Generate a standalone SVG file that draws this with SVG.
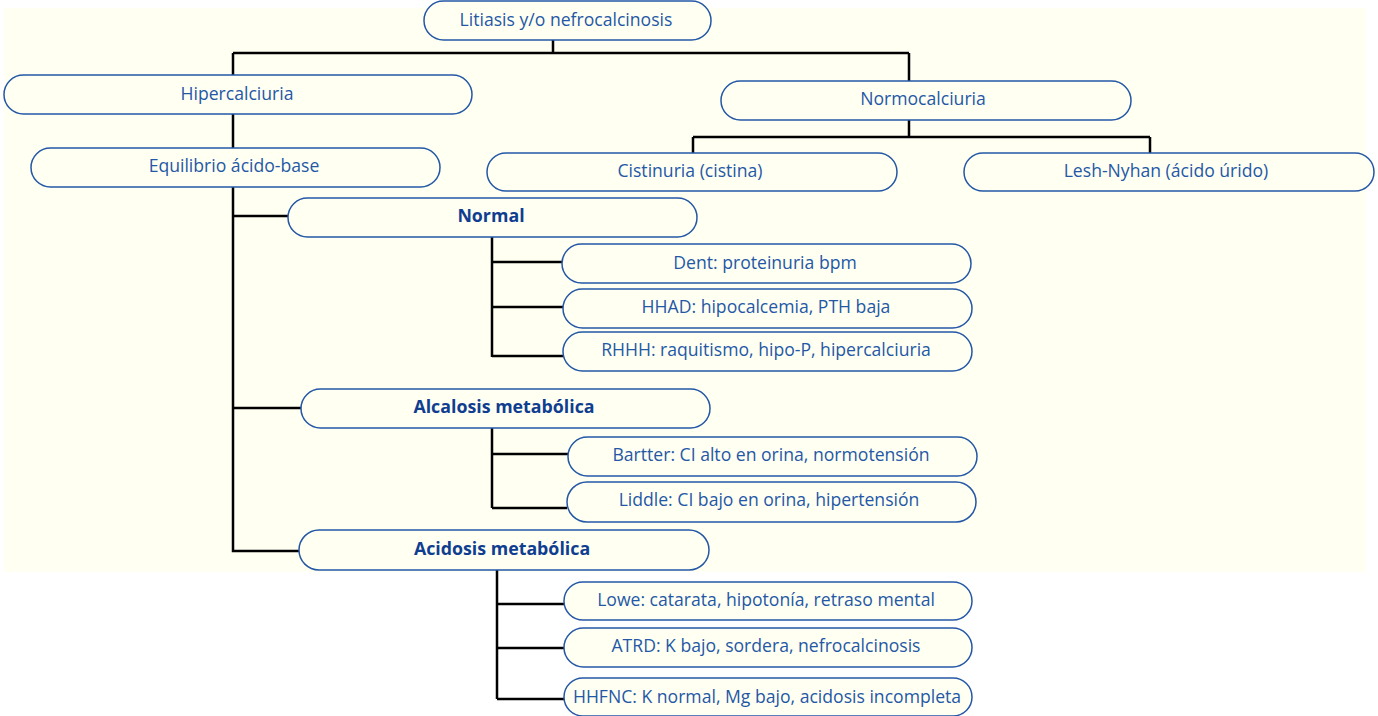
<svg xmlns="http://www.w3.org/2000/svg" width="1378" height="716" viewBox="0 0 1378 716">
<style>
.box{fill:#FFFFF2;stroke:#2458A6;stroke-width:1.5}
.t{font-family:"Open Sans","Noto Sans",sans-serif;font-size:17.6px;fill:#2458A6;text-anchor:middle}
.b{font-weight:bold;fill:#0F3E91;font-size:17.8px}
.c{fill:none;stroke:#000;stroke-width:2.5}
</style>
<rect x="4" y="8" width="1362" height="564" fill="#FFFFF2"/>
<g id="connectors">
<path class="c" d="M553 40V53M233 53H909M233 53V75M909 53V81"/>
<path class="c" d="M233 114V148M233 187V551H299M233 216H288M233 408H301"/>
<path class="c" d="M909 120V137M693 137H1150M693 137V153M1150 137V153"/>
<path class="c" d="M492 237V357M492 262H562M492 307H563M492 356H563"/>
<path class="c" d="M492 428V508M492 454H568M492 508H567"/>
<path class="c" d="M497 570V699M497 604H564M497 648H564M497 699H564"/>
</g>
<g id="n-litiasis"><rect class="box" x="424" y="1" width="287" height="39" rx="19.5"/><text class="t" x="566" y="26">Litiasis y/o nefrocalcinosis</text></g>
<g id="n-hipercalciuria"><rect class="box" x="4" y="75" width="468" height="39" rx="19.5"/><text class="t" x="237" y="100">Hipercalciuria</text></g>
<g id="n-normocalciuria"><rect class="box" x="721" y="81" width="410" height="39" rx="19.5"/><text class="t" x="923" y="105">Normocalciuria</text></g>
<g id="n-equilibrio"><rect class="box" x="31" y="148" width="409" height="39" rx="19.5"/><text class="t" x="234" y="172">Equilibrio ácido-base</text></g>
<g id="n-cistinuria"><rect class="box" x="487" y="153" width="410" height="38" rx="19"/><text class="t" x="690" y="177">Cistinuria (cistina)</text></g>
<g id="n-lesh"><rect class="box" x="964" y="153" width="410" height="38" rx="19"/><text class="t" x="1166" y="177">Lesh-Nyhan (ácido úrido)</text></g>
<g id="n-normal"><rect class="box" x="288" y="198" width="409" height="39" rx="19.5"/><text class="t b" x="491" y="222">Normal</text></g>
<g id="n-dent"><rect class="box" x="562" y="244" width="409" height="39" rx="19.5"/><text class="t" x="765" y="269">Dent: proteinuria bpm</text></g>
<g id="n-hhad"><rect class="box" x="563" y="289" width="409" height="39" rx="19.5"/><text class="t" x="766" y="313">HHAD: hipocalcemia, PTH baja</text></g>
<g id="n-rhhh"><rect class="box" x="563" y="332" width="409" height="39" rx="19.5"/><text class="t" x="766" y="356">RHHH: raquitismo, hipo-P, hipercalciuria</text></g>
<g id="n-alcalosis"><rect class="box" x="301" y="389" width="409" height="39" rx="19.5"/><text class="t b" x="504" y="413">Alcalosis metabólica</text></g>
<g id="n-bartter"><rect class="box" x="568" y="437" width="409" height="39" rx="19.5"/><text class="t" x="771" y="461">Bartter: CI alto en orina, normotensión</text></g>
<g id="n-liddle"><rect class="box" x="567" y="482" width="409" height="40" rx="20"/><text class="t" x="769" y="506">Liddle: CI bajo en orina, hipertensión</text></g>
<g id="n-acidosis"><rect class="box" x="299" y="530" width="410" height="40" rx="20"/><text class="t b" x="502" y="555">Acidosis metabólica</text></g>
<g id="n-lowe"><rect class="box" x="564" y="582" width="408" height="38" rx="19"/><text class="t" x="766" y="606">Lowe: catarata, hipotonía, retraso mental</text></g>
<g id="n-atrd"><rect class="box" x="564" y="628" width="408" height="39" rx="19.5"/><text class="t" x="766" y="652">ATRD: K bajo, sordera, nefrocalcinosis</text></g>
<g id="n-hhfnc"><rect class="box" x="564" y="678" width="408" height="38" rx="19"/><text class="t" x="767" y="703">HHFNC: K normal, Mg bajo, acidosis incompleta</text></g>
</svg>
